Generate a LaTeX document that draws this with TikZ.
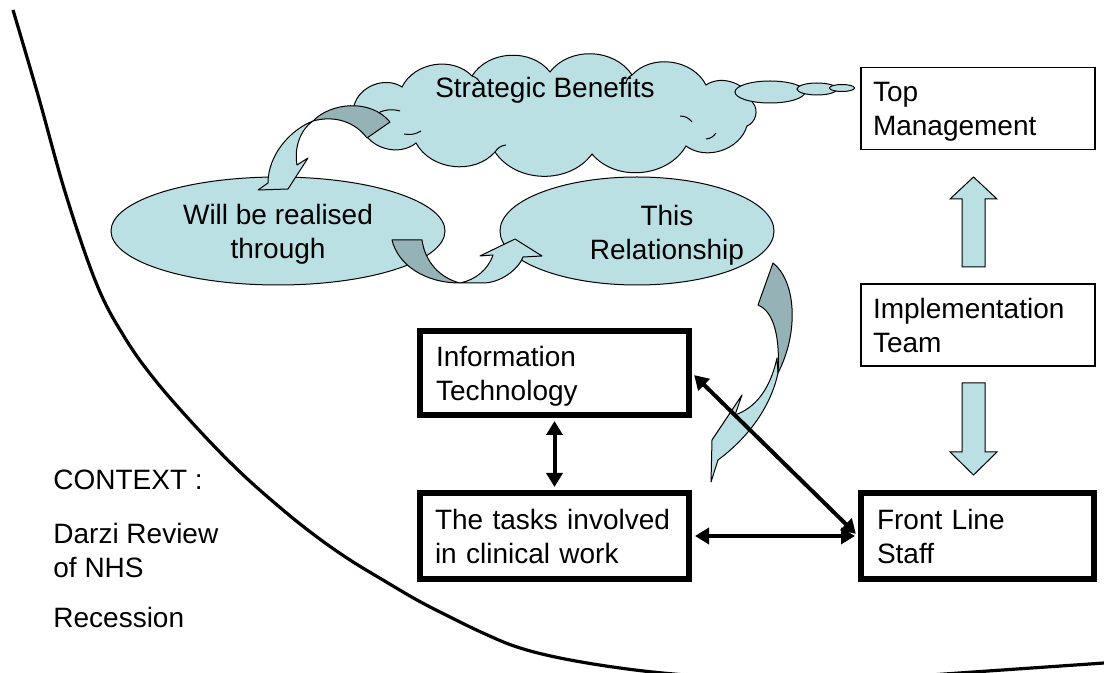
\documentclass[tikz,border=0pt]{standalone}
\usepackage{fontspec}
\setmainfont{Liberation Sans}
\usetikzlibrary{arrows.meta,shapes.geometric}
\definecolor{lblue}{RGB}{187,224,227}
\definecolor{dblue}{RGB}{149,179,182}
\begin{document}
\begin{tikzpicture}[x=0.5pt,y=-0.5pt,
  txt/.style={font=\fontsize{14}{17}\selectfont, inner sep=0pt},
  thinbox/.style={draw, line width=0.6pt, fill=white, txt, align=left, text depth=17pt, text width=105pt, inner xsep=6pt, minimum width=117pt, minimum height=41pt},
  thickbox/.style={draw, line width=3pt, fill=white, txt, align=left, text depth=17pt, inner xsep=8pt, minimum height=43pt},
  bubble/.style={draw, line width=0.5pt, fill=lblue, ellipse, inner sep=0pt},
  lightpart/.style={fill=lblue, draw, line width=0.5pt, line join=round},
  darkpart/.style={fill=dblue, draw, line width=0.5pt, line join=round},
  conn/.style={line width=2pt, {Triangle[length=7pt,width=8pt]}-{Triangle[length=7pt,width=8pt]}, shorten <=1.5pt, shorten >=1.5pt},
  blockarrow/.style={fill=lblue, draw, line width=0.5pt, line join=miter},
  context/.style={line width=1.6pt},
  puff/.style={bend left=55},
  crease/.style={line width=0.5pt},
]
\useasboundingbox (0,0) rectangle (1104,673);

% context boundary curve
\draw[context] plot[smooth, tension=0.6] coordinates {(13,10) (38,95) (66,195) (97,285) (125,338) (155,380) (197,428) (240,472) (283,510) (317,537) (350,560) (383,580) (417,600) (450,617) (483,633) (517,647) (560,658) (620,668) (685,675) (810,684) (931,675) (1104,663) (1130,661)};

% cloud
\filldraw[fill=lblue, line width=0.5pt] (354,106) to[puff] (402,87) to[puff] (472,76) to[puff] (550,72) to[puff] (632,75) to[puff] (706,85) to[puff] (753,103) to[puff] (747,126) to[puff] (686,146) to[puff] (592,154) to[puff] (495,152) to[puff] (416,143) to[puff] (362,128) to[puff] (354,106) -- cycle;
% inner creases of the cloud
\draw[crease] (378,113) to[bend left=20] (400,111);
\draw[crease] (404,134) to[bend right=20] (421,131);
\draw[crease] (472,76) to[bend left=25] (480,83);
\draw[crease] (632,75) to[bend right=25] (626,83);
\draw[crease] (495,152) to[bend left=25] (506,145);
\draw[crease] (680,116) to[bend left=25] (692,122);
\draw[crease] (706,139) to[bend right=25] (716,133);
\node[bubble, minimum width=35pt, minimum height=11pt] (t1) at (770,92) {};
\node[bubble, minimum width=20pt, minimum height=6pt] (t2) at (817,89) {};
\node[bubble, minimum width=12.5pt, minimum height=3.5pt] (t3) at (842,88) {};
\node[txt, anchor=base] (sb) at (545,98) {Strategic Benefits};

% ellipses
\node[bubble, txt, align=center, text depth=0pt, minimum width=167pt, minimum height=54pt] (will) at (278,231) {Will be realised\\through};
\node[bubble, minimum width=137pt, minimum height=54pt] (rel) at (637,231) {};
\node[txt, align=center, text depth=0pt] (reltext) at (667,232) {This\\Relationship};

% curved arrow A (cloud -> will)
\filldraw[lightpart] (313,121) .. controls (290,130) and (268,155) .. (268,183) -- (258,190) -- (288,189) -- (308,158) -- (297,165) .. controls (294,148) and (300,130) .. (313,121) -- cycle;
\filldraw[darkpart] (313,121) .. controls (330,103) and (370,98) .. (390,122) -- (367,138) .. controls (355,122) and (335,115) .. (313,121) -- cycle;

% curved arrow B (will -> rel)
\filldraw[lightpart] (460,283) -- (483,283) .. controls (500,283) and (518,270) .. (523,257) -- (542,256) -- (515,239) -- (480,256) -- (493,255) .. controls (488,270) and (475,280) .. (460,283) -- cycle;
\filldraw[darkpart] (392,240) -- (422,240) .. controls (425,262) and (440,278) .. (460,283) .. controls (425,283) and (398,265) .. (392,240) -- cycle;

% boxes
\node[thinbox] (top) at (978,108.5) {Top\\Management};
\node[thinbox] (impl) at (978,325) {Implementation\\Team};
\node[thickbox, text width=118.5pt, minimum height=42pt] (it) at (554.5,373) {Information\\Technology};
\node[thickbox, text width=119.5pt, inner xsep=7.5pt] (tasks) at (554.5,536) {The tasks involved\\in clinical work};
\node[thickbox, text width=100.5pt] (front) at (977.5,536) {Front Line\\Staff};

% block arrows
\filldraw[blockarrow] (962,267) -- (962,199) -- (950,199) -- (973.5,177) -- (997,199) -- (985,199) -- (985,267) -- cycle;
\filldraw[blockarrow] (962,383) -- (985,383) -- (985,452) -- (997,452) -- (973.5,475) -- (950,452) -- (962,452) -- cycle;

% curved arrow C (rel -> tasks area)
\filldraw[lightpart] (777,358) .. controls (770,390) and (755,408) .. (735,415) -- (742,395) -- (712,440) -- (711,482) -- (718,460) .. controls (745,440) and (770,410) .. (778,373) -- cycle;
\filldraw[darkpart] (773,263) .. controls (795,280) and (800,330) .. (778,373) .. controls (780,340) and (775,312) .. (758,305) -- cycle;

% connectors
\draw[conn] (it.south) -- (tasks.north);
\draw[conn] (tasks.east) -- (front.west);
\draw[conn] (it.east) -- (front.west);

% context text
\node[txt, anchor=base west] (ctx) at (53,490) {CONTEXT :};
\node[txt, anchor=north west, align=left] (darzi) at (53,523) {Darzi Review\\of NHS};
\node[txt, anchor=base west] (rec) at (53,628) {Recession};
\end{tikzpicture}
\end{document}
